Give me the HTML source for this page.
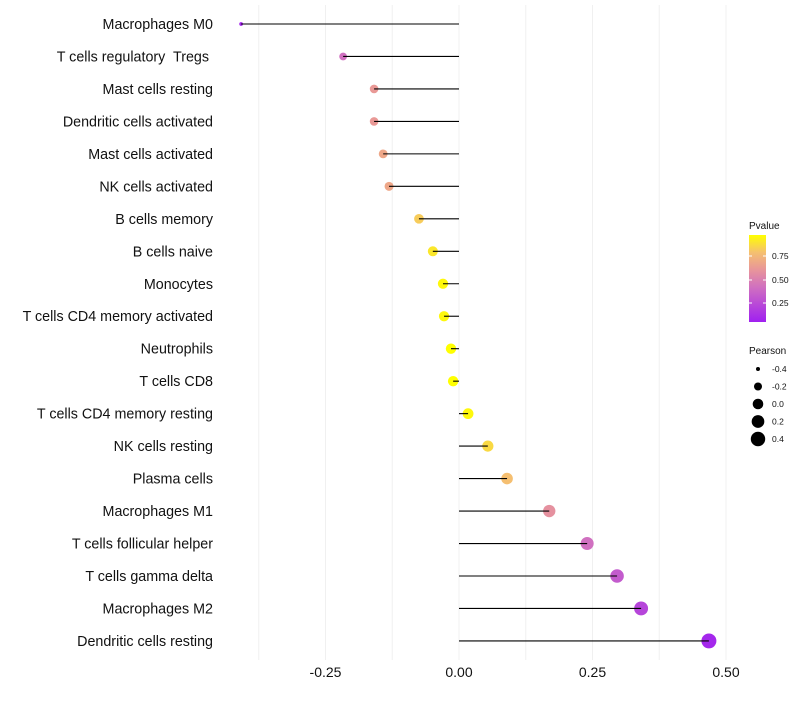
<!DOCTYPE html>
<html><head><meta charset="utf-8"><style>
body{margin:0;background:#fff;font-family:"Liberation Sans",sans-serif}
svg text{font-family:"Liberation Sans",sans-serif;white-space:pre}
</style></head><body>
<svg id="c" width="800" height="700" xmlns="http://www.w3.org/2000/svg">
<defs><linearGradient id="pg" x1="0" y1="1" x2="0" y2="0">
<stop offset="0" stop-color="#a020f0"/><stop offset="0.4" stop-color="#d070c0"/><stop offset="0.6" stop-color="#e8959a"/><stop offset="0.8" stop-color="#f5c070"/><stop offset="1" stop-color="#ffff00"/></linearGradient></defs>
<g id="grid"></g><g id="marks"></g><g id="labels"></g>
</svg>
<script>
const categories=["Macrophages M0","T cells regulatory  Tregs ","Mast cells resting","Dendritic cells activated","Mast cells activated","NK cells activated","B cells memory","B cells naive","Monocytes","T cells CD4 memory activated","Neutrophils","T cells CD8","T cells CD4 memory resting","NK cells resting","Plasma cells","Macrophages M1","T cells follicular helper","T cells gamma delta","Macrophages M2","Dendritic cells resting"];
const pearson=[-0.408,-0.217,-0.159,-0.159,-0.142,-0.131,-0.075,-0.049,-0.030,-0.028,-0.015,-0.011,0.017,0.054,0.090,0.169,0.240,0.296,0.341,0.468];
const pvalue=[0.07,0.42,0.62,0.62,0.68,0.68,0.82,0.9,0.95,0.95,0.97,0.98,0.95,0.86,0.78,0.58,0.42,0.32,0.22,0.08];
const xTicks=[-0.25,0,0.25,0.5];
const xTickLabels=["-0.25","0.00","0.25","0.50"];
const NS="http://www.w3.org/2000/svg";
const X=v=>459+v*534;
const Y=i=>24+i*32.47;
const R=v=>Math.sqrt(Math.max(1,28+60*v));
const stops=[[0,[160,32,240]],[0.4,[208,112,192]],[0.6,[232,149,154]],[0.8,[245,192,112]],[1,[255,255,0]]];
function col(p){const t=Math.min(1,Math.max(0,(p-0.05)/0.92));for(let i=1;i<stops.length;i++){if(t<=stops[i][0]){const a=stops[i-1],b=stops[i],f=(t-a[0])/(b[0]-a[0]);return"rgb("+a[1].map((c,k)=>Math.round(c+(b[1][k]-c)*f)).join(",")+")";}}return"rgb(255,255,0)";}
function mk(tag,attrs,parent,txt){const e=document.createElementNS(NS,tag);for(const k in attrs)e.setAttribute(k,attrs[k]);if(txt!==undefined)e.textContent=txt;parent.appendChild(e);return e;}
const grid=document.getElementById('grid'),marks=document.getElementById('marks'),labels=document.getElementById('labels'),svg=document.getElementById('c');
for(let v=-0.375;v<=0.5001;v+=0.125){const g=mk('line',{x1:X(v),x2:X(v),y1:5,y2:660,stroke:'#f0f0f0','stroke-width':1},grid);

}
xTicks.forEach((v,i)=>{const t=mk('text',{x:X(v),y:677,'font-size':14,'text-anchor':'middle',fill:'#111'},labels,xTickLabels[i]);

});
categories.forEach((c,i)=>{
const t=mk('text',{x:213,y:Y(i)+5,'font-size':14.3,'text-anchor':'end',fill:'#111'},labels,c);


const pt=mk('circle',{cx:X(pearson[i]),cy:Y(i),r:R(pearson[i]),fill:col(pvalue[i])},marks);


const ln=mk('line',{x1:X(pearson[i]),x2:X(0),y1:Y(i),y2:Y(i),stroke:'#000','stroke-width':1.1},marks);


});
const lg=mk('g',{},svg);


mk('text',{x:749,y:229,'font-size':10,fill:'#111'},lg,'Pvalue');
const bar=mk('rect',{x:749,y:235,width:17,height:87,fill:'url(#pg)'},lg);


[[0.75,256],[0.5,280],[0.25,303]].forEach(([v,y])=>{mk('line',{x1:749,x2:752,y1:y,y2:y,stroke:'#fff'},lg);mk('line',{x1:763,x2:766,y1:y,y2:y,stroke:'#fff'},lg);mk('text',{x:772,y:y+3,'font-size':8.5,fill:'#111'},lg,v.toFixed(2));});
mk('text',{x:749,y:354,'font-size':10,fill:'#111'},lg,'Pearson');
[-0.4,-0.2,0,0.2,0.4].forEach((v,i)=>{const y=369+i*17.5;const k=mk('circle',{cx:758,cy:y,r:R(v),fill:'#000'},lg);


mk('text',{x:772,y:y+3,'font-size':8.5,fill:'#111'},lg,v.toFixed(1));});
</script>
</body></html>
